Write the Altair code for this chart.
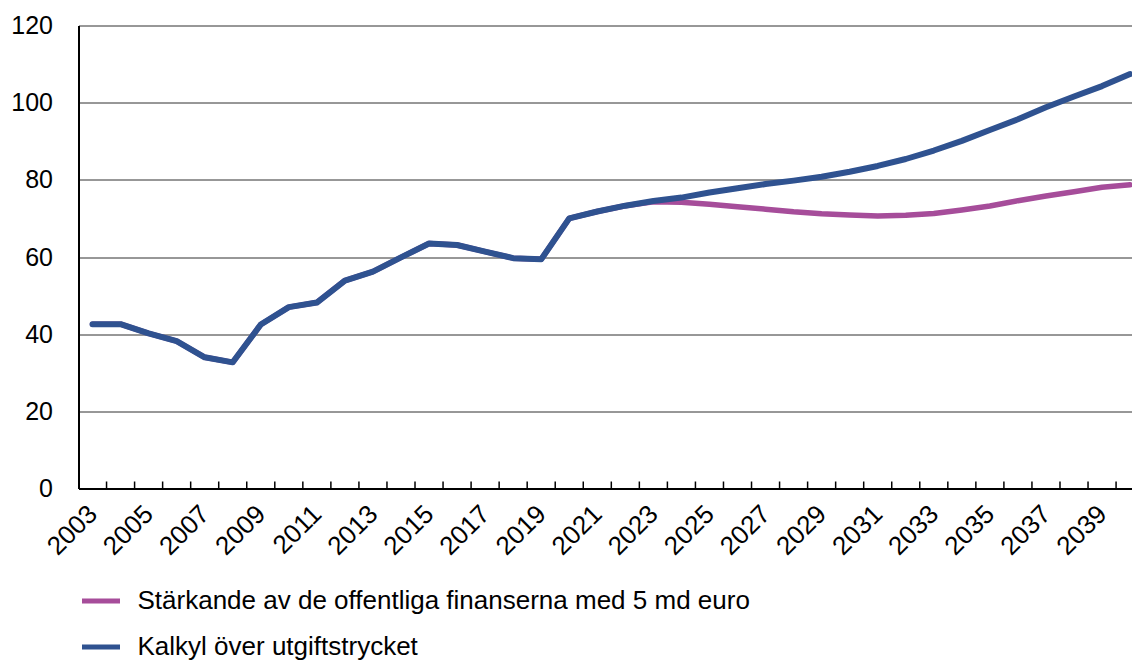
import altair as alt
import pandas as pd

years = list(range(2003, 2041))

kalkyl = [42.6, 42.6, 40.2, 38.2, 34.0, 32.7, 42.5, 47.0, 48.2, 53.9,
          56.2, 59.9, 63.5, 63.1, 61.4, 59.7, 59.4, 70.0, 71.8, 73.3,
          74.5, 75.4, 76.7, 77.8, 78.9, 79.8, 80.8, 82.1, 83.6, 85.4,
          87.6, 90.1, 92.9, 95.7, 98.8, 101.6, 104.3, 107.4]

starkande = [42.6, 42.6, 40.2, 38.2, 34.0, 32.7, 42.5, 47.0, 48.2, 53.9,
             56.2, 59.9, 63.5, 63.1, 61.4, 59.7, 59.4, 70.0, 71.8, 73.3,
             74.3, 74.2, 73.7, 73.0, 72.4, 71.7, 71.2, 70.9, 70.6, 70.8,
             71.3, 72.2, 73.2, 74.6, 75.8, 76.9, 78.1, 78.7]

series_names = ["Stärkande av de offentliga finanserna med 5 md euro",
                "Kalkyl över utgiftstrycket"]
series_colors = ["#A64D9A", "#2F5290"]

label_years = list(range(2003, 2040, 2))
tick_boundaries = [y + 0.5 for y in range(2003, 2040)]
y_ticks = [0, 20, 40, 60, 80, 100, 120]

FONT = "Liberation Sans"

df = pd.DataFrame({
    "year": years * 2,
    "value": starkande + kalkyl,
    "series": [series_names[0]] * len(years) + [series_names[1]] * len(years),
})
ticks_df = pd.DataFrame({"year": tick_boundaries})

xscale = alt.Scale(domain=[2002.5, 2040.05], nice=False, zero=False)
yscale = alt.Scale(domain=[0, 120], nice=False, zero=True)

x_axis = alt.Axis(values=label_years, format="d", labelAngle=-45, labelAlign="right",
                  labelBaseline="middle", labelPadding=21, ticks=False, grid=False,
                  domain=True, domainColor="black", domainWidth=2, labelFontSize=26,
                  labelFont=FONT, labelColor="black", title=None, labelOverlap=False,
                  labelFlush=False)
y_axis = alt.Axis(values=y_ticks, grid=True, gridColor="#303030", gridWidth=1,
                  ticks=False, domain=True, domainColor="black", domainWidth=2,
                  labelFontSize=25, labelFont=FONT, labelColor="black", labelPadding=26,
                  title=None)

color = alt.Color(
    "series:N",
    scale=alt.Scale(domain=series_names, range=series_colors),
    legend=alt.Legend(title=None, orient="none", legendX=1, legendY=554,
                      direction="vertical", symbolType="stroke", symbolSize=1444,
                      symbolStrokeWidth=5, labelFontSize=26, labelFont=FONT,
                      labelColor="black", labelOffset=15, rowPadding=11, padding=0,
                      labelLimit=1000),
)

X = alt.X("year:Q", scale=xscale, axis=x_axis)
Y = alt.Y("value:Q", scale=yscale, axis=y_axis)

purple = alt.Chart(df).transform_filter(
    alt.datum.series == series_names[0]
).mark_line(strokeWidth=5.5, strokeCap="round", strokeJoin="round").encode(
    x=X, y=Y, color=color)

blue = alt.Chart(df).transform_filter(
    alt.datum.series == series_names[1]
).mark_line(strokeWidth=6, strokeCap="round", strokeJoin="round").encode(
    x=X, y=Y, color=color)

ticks = alt.Chart(ticks_df).mark_rule(color="black", strokeWidth=1.5).encode(
    x=X, y=alt.value(463), y2=alt.value(456))

chart = alt.layer(ticks, purple, blue).properties(
    width=1053, height=463,
    padding={"left": 70.5, "top": 17.5, "right": 0, "bottom": 171.5},
    autosize="none",
).configure_view(stroke=None)

chart.save("out.html", embed_options={"renderer": "svg", "actions": False})
